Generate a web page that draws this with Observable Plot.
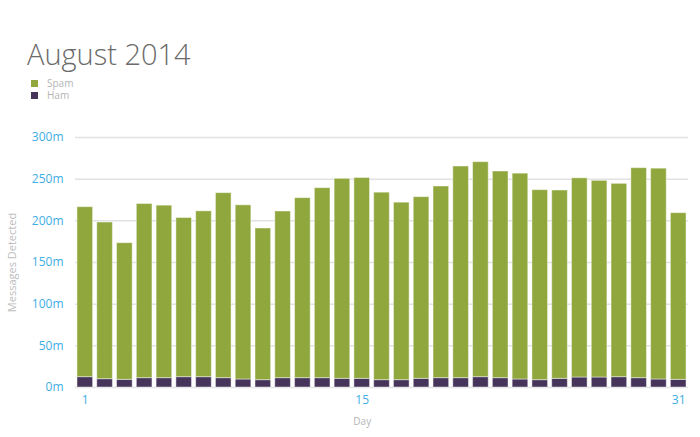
<!DOCTYPE html>
<html>
<head>
<meta charset="utf-8">
<script src="https://cdn.jsdelivr.net/npm/d3@7"></script>
<script src="https://cdn.jsdelivr.net/npm/@observablehq/plot@0.6"></script>
<style>
  html, body { margin: 0; padding: 0; background: #fff; width: 700px; height: 437px; overflow: hidden; font-family: "Open Sans", sans-serif; }
  #title { position: absolute; left: 27px; top: 39px; font-size: 29px; font-weight: 300; color: #6b6b6b; line-height: 1; }
  #legend { position: absolute; left: 31px; top: 78px; font-size: 10px; color: #b5b5b5; line-height: 11.5px; }
  #legend div { display: flex; align-items: center; height: 11.5px; }
  #legend span.sw { display: inline-block; width: 7px; height: 7px; margin-right: 9px; }
  #chart { position: absolute; left: 0; top: 115px; }
</style>
</head>
<body>
<div id="title">August 2014</div>
<div id="legend"></div>
<div id="chart"></div>
<script>
const days = d3.range(1, 32);
const spam = [204,188,164,209,207,191,199,222,209,182,200,216,228,240,241,225,213,218,230,254,258,248,247,228,226,239,236,232,252,253,200];
const ham = [12.4,10,9.2,11.2,11.2,12.4,12.4,11.2,9.6,8.8,11.2,11.2,11.2,10.4,10.4,8.8,8.8,10.4,11.2,11.2,12.4,11.2,9.6,8.8,10.4,12,12,12.4,11.2,9.6,9.2];
const seriesNames = ["Spam", "Ham"];
const seriesColors = ["#8fa73d", "#46345a"];
const xTicks = [1, 15, 31];
const yTicks = [0, 50, 100, 150, 200, 250, 300];

const rows = [];
days.forEach((d, i) => {
  rows.push({day: d, series: "Ham", value: ham[i]});
  rows.push({day: d, series: "Spam", value: spam[i]});
});

const legend = document.getElementById("legend");
seriesNames.forEach((s, i) => {
  const row = document.createElement("div");
  row.innerHTML = `<span class="sw" style="background:${seriesColors[i]}"></span>${s}`;
  legend.appendChild(row);
});

const chart = Plot.plot({
  width: 700,
  height: 322,
  marginTop: 22,
  marginBottom: 50,
  marginLeft: 75,
  marginRight: 12,
  style: {fontFamily: "Open Sans, sans-serif", fontSize: "12px", background: "transparent"},
  x: {type: "band", domain: days, paddingInner: 0.21, paddingOuter: 0.1, round: false},
  y: {domain: [0, 300]},
  color: {domain: seriesNames, range: seriesColors},
  marks: [
    Plot.gridY(yTicks, {stroke: "#e2e2e2", strokeOpacity: 1, strokeWidth: 1.5}),
    Plot.barY(rows, Plot.stackY({
      x: "day", y: "value", fill: "series", order: ["Ham", "Spam"],
      stroke: "#ffffff", strokeOpacity: 0.45, strokeWidth: 1, inset: 0
    })),
    Plot.axisY(yTicks, {
      tickSize: 0, tickPadding: 12, fill: "#3eaee6", fontSize: 12,
      tickFormat: d => d + "m", label: null
    }),
    Plot.text(["Messages Detected"], {frameAnchor: "left", rotate: -90, dx: -63, fill: "#bdbdbd", fontSize: 11, textAnchor: "middle", lineAnchor: "middle"}),
    Plot.axisX(xTicks, {tickSize: 0, tickPadding: 8, fill: "#3eaee6", fontSize: 12, label: null}),
    Plot.text(["Day"], {x: () => 15, frameAnchor: "bottom", dy: 34, fill: "#b5b5b5", fontSize: 10, textAnchor: "middle", lineAnchor: "middle"})
  ]
});
document.getElementById("chart").appendChild(chart);
</script>
</body>
</html>
